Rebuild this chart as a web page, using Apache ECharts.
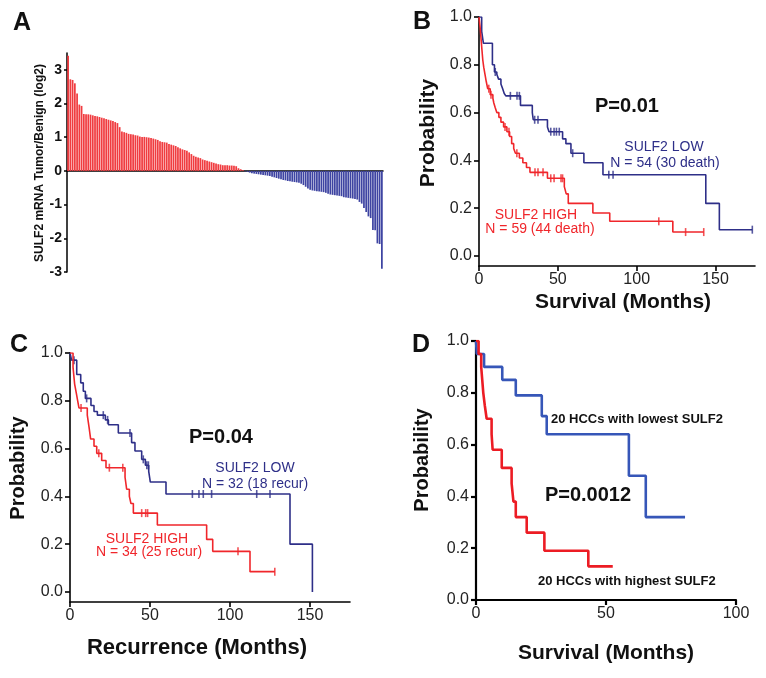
<!DOCTYPE html>
<html>
<head>
<meta charset="utf-8">
<script src="https://cdn.jsdelivr.net/npm/echarts@6/dist/echarts.min.js"></script>
<style>
  html, body { margin: 0; padding: 0; background: #fff; }
  #chart { width: 766px; height: 678px; }
</style>
</head>
<body>
<div id="chart"></div>
<script>
  // ---- panel A: SULF2 mRNA tumor/benign ratio (log2), sorted ----
  const sulf2Log2Ratio = [
    3.42, 2.72, 2.70, 2.60, 2.30, 1.97, 1.93, 1.69, 1.68, 1.68, 1.67, 1.65, 1.63, 1.62, 1.60,
    1.58, 1.56, 1.54, 1.52, 1.50, 1.48, 1.45, 1.42, 1.30, 1.17, 1.15, 1.13, 1.10, 1.09, 1.08,
    1.06, 1.05, 1.02, 1.01, 1.01, 1.00, 0.99, 0.98, 0.96, 0.94, 0.92, 0.88, 0.86, 0.85, 0.84,
    0.80, 0.78, 0.76, 0.74, 0.70, 0.67, 0.64, 0.62, 0.60, 0.55, 0.50, 0.45, 0.42, 0.40, 0.38,
    0.34, 0.32, 0.30, 0.28, 0.26, 0.24, 0.22, 0.20, 0.19, 0.17, 0.17, 0.17, 0.16, 0.16, 0.15,
    0.14, 0.08, 0.05, 0.02,
    -0.01, -0.03, -0.05, -0.07, -0.08, -0.09, -0.10, -0.11, -0.12, -0.13, -0.14, -0.15,
    -0.17, -0.19, -0.21, -0.23, -0.25, -0.27, -0.28, -0.30, -0.31, -0.32, -0.33, -0.34, -0.35,
    -0.38, -0.42, -0.47, -0.52, -0.56, -0.58, -0.59, -0.60, -0.61, -0.62, -0.63, -0.65,
    -0.68, -0.70, -0.71, -0.72, -0.73, -0.74, -0.75, -0.78, -0.79, -0.80, -0.81, -0.82, -0.83,
    -0.85, -0.92, -0.97, -1.10, -1.22, -1.35, -1.40, -1.75, -1.76, -2.15, -2.17, -2.90
  ];
  const ratioTicks = [-3, -2, -1, 0, 1, 2, 3];

  // ---- panel B: overall survival ----
  const bLowTime = [0, 1.7, 2.8, 8.5, 9.8, 11.3, 12.4, 13.9, 15, 16, 17, 26.3, 33.8, 34.4, 43.4, 44.4, 53, 55.1, 58.3, 66.5, 78.6, 143.8, 152.4, 173.3];
  const bLowSurv = [1, 0.94, 0.89, 0.80, 0.77, 0.76, 0.74, 0.72, 0.70, 0.68, 0.67, 0.63, 0.60, 0.57, 0.54, 0.52, 0.49, 0.47, 0.43, 0.39, 0.34, 0.22, 0.11, 0.11];
  const bLowCensor = [10.3, 19.9, 24.1, 25.6, 35.3, 37.4, 45.5, 47.6, 49.1, 50.9, 59.4, 82.3, 85, 173.3];
  const bHighTime = [0, 0.8, 1.4, 1.9, 2.4, 3.0, 3.8, 4.6, 5.5, 7.1, 8.8, 9.4, 10.3, 11.3, 12.6, 13.9, 15.6, 17.7, 19.4, 20.7, 22, 23.1, 25.6, 27.8, 30.1, 32.3, 43.4, 54.1, 55.3, 56.6, 72.2, 82.9, 122.9, 142.5];
  const bHighSurv = [1, 0.95, 0.90, 0.86, 0.82, 0.79, 0.76, 0.73, 0.70, 0.675, 0.66, 0.64, 0.62, 0.60, 0.58, 0.56, 0.54, 0.52, 0.50, 0.47, 0.45, 0.43, 0.41, 0.39, 0.37, 0.35, 0.325, 0.29, 0.26, 0.22, 0.18, 0.145, 0.10, 0.10];
  const bHighCensor = [6.2, 7.6, 16.5, 19, 24, 35.5, 37.4, 40.6, 45.5, 47.6, 52, 53, 114, 131, 142.5];

  // ---- panel C: recurrence ----
  const cLowTime = [0, 1, 4.2, 6.7, 8.3, 9.6, 13.1, 15, 17.1, 22.1, 24, 30.2, 38.5, 40.6, 44.8, 47.1, 49.2, 50.2, 60, 137.5, 151.5];
  const cLowSurv = [1, 0.97, 0.91, 0.875, 0.84, 0.81, 0.78, 0.755, 0.74, 0.72, 0.70, 0.665, 0.625, 0.59, 0.555, 0.53, 0.505, 0.46, 0.41, 0.20, 0.0];
  const cLowCensor = [2.5, 10.4, 20.8, 23.5, 37.5, 45.8, 48, 49, 76.5, 80.6, 83.3, 88.5, 116.7, 125];
  const cHighTime = [0, 1.9, 2.9, 4, 4.8, 5.6, 10.8, 11.9, 12.9, 15, 16.7, 19.8, 22.5, 34.4, 35.4, 37.1, 38.1, 39.6, 54.6, 85.4, 89.2, 112.5, 128];
  const cHighSurv = [1, 0.94, 0.87, 0.83, 0.80, 0.77, 0.74, 0.69, 0.64, 0.61, 0.58, 0.55, 0.52, 0.48, 0.43, 0.40, 0.37, 0.33, 0.28, 0.22, 0.17, 0.085, 0.085];
  const cHighCensor = [6.9, 18, 24.6, 33, 44.8, 47.3, 48.5, 105, 128];

  // ---- panel D: 20 lowest vs 20 highest SULF2 ----
  const dLowTime = [0, 0.3, 3.1, 10.1, 15.3, 25.3, 27.2, 58.8, 65.3, 80.4];
  const dLowSurv = [1, 0.95, 0.90, 0.85, 0.79, 0.71, 0.64, 0.48, 0.32, 0.32];
  const dHighTime = [0, 1.0, 2.0, 2.4, 2.8, 3.4, 4.1, 6.0, 6.4, 9.9, 13.7, 14.4, 15.3, 19.5, 26.3, 43.2, 52.6];
  const dHighSurv = [1, 0.95, 0.90, 0.85, 0.80, 0.75, 0.70, 0.64, 0.58, 0.51, 0.45, 0.38, 0.32, 0.26, 0.19, 0.13, 0.13];

  const probTicks = [0, 0.2, 0.4, 0.6, 0.8, 1.0];
  const monthTicks = [0, 50, 100, 150];
  const monthTicksD = [0, 50, 100];

  const FONT = '"Liberation Sans", Arial, sans-serif';
  const NAVY = '#2e2f88';
  const RED = '#f0262b';
  const BLUE_D = '#3656b8';
  const RED_D = '#ec1c24';

  function pairs(t, s) {
    return t.map((v, i) => [v, s[i]]);
  }
  // survival value of a step curve at time x (puts the censor ticks on the curve)
  function survAt(t, s, x) {
    let v = s[0];
    for (let i = 0; i < t.length; i++) {
      if (t[i] <= x) v = s[i];
    }
    return v;
  }
  function censorPts(t, s, c) {
    return c.map(x => [x, survAt(t, s, x)]);
  }

  function kmX(grid, max, ticks, lw) {
    return {
      gridIndex: grid, type: 'value', min: 0, max: max,
      splitLine: { show: false },
      axisLine: { show: true, onZero: false, lineStyle: { color: '#000', width: lw } },
      axisTick: { show: true, length: 5, customValues: ticks, lineStyle: { color: '#000', width: lw } },
      axisLabel: { customValues: ticks, fontFamily: FONT, fontSize: 16, color: '#222', margin: 6 }
    };
  }
  function kmY(grid, min, lw) {
    return {
      gridIndex: grid, type: 'value', min: min, max: 1,
      splitLine: { show: false },
      axisLine: { show: true, onZero: false, lineStyle: { color: '#000', width: lw } },
      axisTick: { show: true, length: 5, customValues: probTicks, lineStyle: { color: '#000', width: lw } },
      axisLabel: {
        customValues: probTicks, fontFamily: FONT, fontSize: 16, color: '#222', margin: 7,
        formatter: v => v.toFixed(1)
      }
    };
  }
  function kmLine(xi, t, s, color, w) {
    return {
      type: 'line', xAxisIndex: xi, yAxisIndex: xi, step: 'end', data: pairs(t, s),
      symbol: 'none', lineStyle: { color: color, width: w }, animation: false
    };
  }
  function censor(xi, t, s, c, color) {
    return {
      type: 'scatter', xAxisIndex: xi, yAxisIndex: xi, data: censorPts(t, s, c),
      symbol: 'rect', symbolSize: [1.6, 8], itemStyle: { color: color }, animation: false
    };
  }
  function txt(x, y, text, size, weight, color, opts) {
    const o = Object.assign({ align: 'center', rotation: 0 }, opts || {});
    return {
      type: 'text', x: x, y: y, rotation: o.rotation, z: 100,
      style: {
        text: text, fontFamily: FONT, fontSize: size, fontWeight: weight, fill: color,
        align: o.align, verticalAlign: 'middle', textAlign: o.align, textVerticalAlign: 'middle'
      }
    };
  }

  const chart = echarts.init(document.getElementById('chart'), null, { renderer: 'canvas' });

  const option = {
    backgroundColor: '#fff',
    animation: false,
    grid: [
      { left: 67, top: 53, width: 316, height: 219 },
      { left: 479, top: 17, width: 276, height: 249 },
      { left: 70, top: 353, width: 280, height: 249 },
      { left: 476, top: 341, width: 260, height: 259 }
    ],
    xAxis: [
      {
        gridIndex: 0, type: 'category', data: sulf2Log2Ratio.map((v, i) => i + 1),
        axisLine: { onZero: true, lineStyle: { color: '#000', width: 1.5 } },
        axisTick: { show: false }, axisLabel: { show: false }
      },
      kmX(1, 175, monthTicks, 1.6),
      kmX(2, 175, monthTicks, 1.6),
      kmX(3, 100, monthTicksD, 2.2)
    ],
    yAxis: [
      {
        gridIndex: 0, type: 'value', min: -3, max: 3.5,
        splitLine: { show: false },
        axisLine: { show: true, onZero: false, lineStyle: { color: '#000', width: 1.5 } },
        axisTick: { show: true, length: 3, customValues: ratioTicks, lineStyle: { color: '#000', width: 1.5 } },
        axisLabel: { customValues: ratioTicks, fontFamily: FONT, fontSize: 14, fontWeight: 'bold', color: '#111', margin: 5 }
      },
      kmY(1, -0.042, 1.6),
      kmY(2, -0.042, 1.6),
      kmY(3, 0, 2.2)
    ],
    series: [
      {
        type: 'bar', xAxisIndex: 0, yAxisIndex: 0, data: sulf2Log2Ratio,
        barCategoryGap: '22%',
        itemStyle: { color: p => (p.value >= 0 ? '#f03c40' : '#3e44a2') }
      },
      kmLine(1, bLowTime, bLowSurv, NAVY, 1.6),
      kmLine(1, bHighTime, bHighSurv, RED, 1.6),
      censor(1, bLowTime, bLowSurv, bLowCensor, NAVY),
      censor(1, bHighTime, bHighSurv, bHighCensor, RED),
      kmLine(2, cLowTime, cLowSurv, NAVY, 1.6),
      kmLine(2, cHighTime, cHighSurv, RED, 1.6),
      censor(2, cLowTime, cLowSurv, cLowCensor, NAVY),
      censor(2, cHighTime, cHighSurv, cHighCensor, RED),
      kmLine(3, dLowTime, dLowSurv, BLUE_D, 2.6),
      kmLine(3, dHighTime, dHighSurv, RED_D, 2.6)
    ],
    graphic: [
      // panel letters
      txt(22, 23, 'A', 25, 'bold', '#111'),
      txt(422, 22, 'B', 25, 'bold', '#111'),
      txt(19, 345, 'C', 25, 'bold', '#111'),
      txt(421, 345, 'D', 25, 'bold', '#111'),
      // axis titles
      txt(40, 163, 'SULF2 mRNA Tumor/Benign (log2)', 12, 'bold', '#111', { rotation: Math.PI / 2 }),
      txt(428, 133, 'Probability', 21, 'bold', '#111', { rotation: Math.PI / 2 }),
      txt(623, 302, 'Survival (Months)', 21, 'bold', '#111'),
      txt(18, 468, 'Probability', 20, 'bold', '#111', { rotation: Math.PI / 2 }),
      txt(197, 648, 'Recurrence (Months)', 22, 'bold', '#111'),
      txt(422, 460, 'Probability', 20, 'bold', '#111', { rotation: Math.PI / 2 }),
      txt(606, 653, 'Survival (Months)', 21, 'bold', '#111'),
      // panel B notes
      txt(627, 106, 'P=0.01', 20, 'bold', '#111'),
      txt(664, 147, 'SULF2 LOW', 14, 'normal', NAVY),
      txt(665, 163, 'N = 54 (30 death)', 14, 'normal', NAVY),
      txt(536, 215, 'SULF2 HIGH', 14, 'normal', RED),
      txt(540, 229, 'N = 59 (44 death)', 14, 'normal', RED),
      // panel C notes
      txt(221, 437, 'P=0.04', 20, 'bold', '#111'),
      txt(255, 468, 'SULF2 LOW', 14, 'normal', NAVY),
      txt(255, 484, 'N = 32 (18 recur)', 14, 'normal', NAVY),
      txt(147, 539, 'SULF2 HIGH', 14, 'normal', RED),
      txt(149, 552, 'N = 34 (25 recur)', 14, 'normal', RED),
      // panel D notes
      txt(551, 419, '20 HCCs with lowest SULF2', 13, 'bold', '#111', { align: 'left' }),
      txt(588, 495, 'P=0.0012', 20, 'bold', '#111'),
      txt(538, 581, '20 HCCs with highest SULF2', 13, 'bold', '#111', { align: 'left' })
    ]
  };

  chart.setOption(option);
</script>
</body>
</html>
